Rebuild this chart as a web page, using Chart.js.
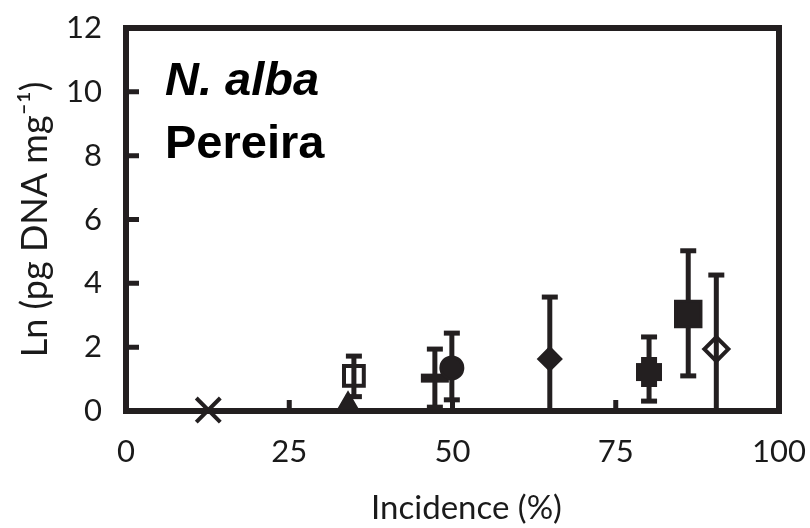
<!DOCTYPE html>
<html>
<head>
<meta charset="utf-8">
<script src="https://cdn.jsdelivr.net/npm/chart.js@4.4.1/dist/chart.umd.min.js"></script>
<style>
  html, body { margin: 0; padding: 0; background: #fff; }
  #chart { display: block; }
</style>
</head>
<body>
<canvas id="chart" width="810" height="528"></canvas>
<script>
// values
const incidence = [12.6, 34.0, 34.9, 47.3, 49.9, 64.9, 80.1, 86.1, 90.4];
const lnDna     = [0.03, 0.21, 1.10, 1.03, 1.35, 1.63, 1.22, 3.04, 1.94];
const errLow    = [null, null, 0.45, 0.12, 0.35, 0.00, 0.31, 1.10, 0.00];
const errHigh   = [null, null, 1.72, 1.94, 2.44, 3.57, 2.32, 5.02, 4.26];
const markerKind = ['cross', 'triangle', 'openSquare', 'dash', 'circle', 'diamond', 'plus', 'square', 'openDiamond'];

const xTicks = [0, 25, 50, 75, 100];
const yTicks = [0, 2, 4, 6, 8, 10, 12];
const panelTitle = ['N. alba', 'Pereira'];
const xTitle = 'Incidence (%)';
const yTitle = 'Ln (pg DNA mg\u207B\u00B9)';

const ink = '#231f20';
const none = 'rgba(0,0,0,0)';

// blocky filled marker used at ~80 %
function plusMarker() {
  const c = document.createElement('canvas');
  c.width = 26;
  c.height = 30;
  const g = c.getContext('2d');
  g.fillStyle = ink;
  g.fillRect(0, 6, 26, 18);
  g.fillRect(5, 0, 16, 30);
  return c;
}

const markerLook = {
  cross:       { style: 'crossRot', r: 17, bg: ink,  bw: 4 },
  triangle:    { style: 'triangle', r: 12, bg: ink,  bw: 2 },
  openSquare:  { style: 'rect',     r: 14, bg: none, bw: 4 },
  dash:        { style: 'line',     r: 14, bg: ink,  bw: 9 },
  circle:      { style: 'circle',   r: 11, bg: ink,  bw: 3 },
  diamond:     { style: 'rectRot',  r: 11, bg: ink,  bw: 3 },
  plus:        { style: plusMarker(), r: 13, bg: ink, bw: 0 },
  square:      { style: 'rect',     r: 18, bg: ink,  bw: 3 },
  openDiamond: { style: 'rectRot',  r: 12, bg: none, bw: 4 }
};

const looks = markerKind.map(k => markerLook[k]);

const pointSet = {
  label: 'points',
  data: incidence.map((x, i) => ({ x: x, y: lnDna[i] })),
  pointStyle: looks.map(l => l.style),
  pointRadius: looks.map(l => l.r),
  pointBackgroundColor: looks.map(l => l.bg),
  pointBorderColor: ink,
  pointBorderWidth: looks.map(l => l.bw),
  order: 0,
  clip: false
};

const errorSets = incidence.map((x, i) => {
  if (errHigh[i] === null) return null;
  return {
    label: 'err' + i,
    showLine: true,
    data: [{ x: x, y: errLow[i] }, { x: x, y: errHigh[i] }],
    borderColor: ink,
    borderWidth: 5,
    pointStyle: 'line',
    pointRadius: [errLow[i] > 0 ? 8 : 0, 8],
    pointBorderColor: ink,
    pointBorderWidth: 5,
    order: 1,
    clip: false
  };
}).filter(Boolean);

const framePlugin = {
  id: 'frame',
  beforeDatasetsDraw(chart) {
    const { ctx, chartArea: a, scales } = chart;
    ctx.save();
    ctx.strokeStyle = ink;
    ctx.lineWidth = 6;
    ctx.strokeRect(a.left, a.top, a.right - a.left, a.bottom - a.top);

    // inward tick marks
    ctx.lineWidth = 5;
    ctx.beginPath();
    scales.y.ticks.forEach(t => {
      if (t.value <= 0 || t.value >= 12) return;
      const py = scales.y.getPixelForValue(t.value);
      ctx.moveTo(a.left, py);
      ctx.lineTo(a.left + 13, py);
    });
    scales.x.ticks.forEach(t => {
      if (t.value <= 0 || t.value >= 100) return;
      const px = scales.x.getPixelForValue(t.value);
      ctx.moveTo(px, a.bottom);
      ctx.lineTo(px, a.bottom - 11);
    });
    ctx.stroke();
    ctx.restore();
  }
};

const labelPlugin = {
  id: 'panelLabel',
  afterDraw(chart) {
    const ctx = chart.ctx;
    const a = chart.chartArea;
    ctx.save();
    ctx.fillStyle = '#000';
    ctx.textAlign = 'left';
    ctx.textBaseline = 'alphabetic';
    ctx.font = 'italic bold 47px "Liberation Sans", Arial, sans-serif';
    ctx.fillText(panelTitle[0], 165, 95);
    ctx.font = 'bold 47px "Liberation Sans", Arial, sans-serif';
    ctx.fillText(panelTitle[1], 165, 158);

    // x axis title, sits slightly right of the plot centre in the original
    ctx.fillStyle = '#1a1a1a';
    ctx.textAlign = 'center';
    ctx.textBaseline = 'middle';
    ctx.font = '33px Lato, sans-serif';
    ctx.fillText(xTitle, (a.left + a.right) / 2 + 14, 508);
    ctx.restore();
  }
};

const tickFont = { family: 'Lato', size: 31 };
// invisible tick marks only used to push the labels away from the axis
const hiddenGrid = len => ({
  display: true,
  drawOnChartArea: false,
  drawTicks: true,
  tickLength: len,
  color: none
});

new Chart(document.getElementById('chart'), {
  type: 'scatter',
  data: { datasets: [pointSet].concat(errorSets) },
  options: {
    responsive: false,
    animation: false,
    events: [],
    layout: { padding: { top: 28, right: 31, left: 0, bottom: 0 } },
    plugins: {
      legend: { display: false },
      tooltip: { enabled: false }
    },
    scales: {
      x: {
        type: 'linear',
        min: 0,
        max: 100,
        afterBuildTicks: scale => { scale.ticks = xTicks.map(v => ({ value: v })); },
        afterFit: scale => { scale.height = 117; },
        grid: hiddenGrid(22),
        border: { display: false },
        ticks: { font: tickFont, color: '#1a1a1a', padding: 0, maxRotation: 0 },
        title: { display: false }
      },
      y: {
        type: 'linear',
        min: 0,
        max: 12,
        afterBuildTicks: scale => { scale.ticks = yTicks.map(v => ({ value: v })); },
        afterFit: scale => { scale.width = 126; },
        grid: hiddenGrid(24),
        border: { display: false },
        ticks: { font: tickFont, color: '#1a1a1a', padding: 0 },
        title: {
          display: true,
          text: yTitle,
          font: { family: 'Lato', size: 36 },
          color: '#1a1a1a',
          padding: { top: 14, bottom: 0 }
        }
      }
    }
  },
  plugins: [framePlugin, labelPlugin]
});
</script>
</body>
</html>
